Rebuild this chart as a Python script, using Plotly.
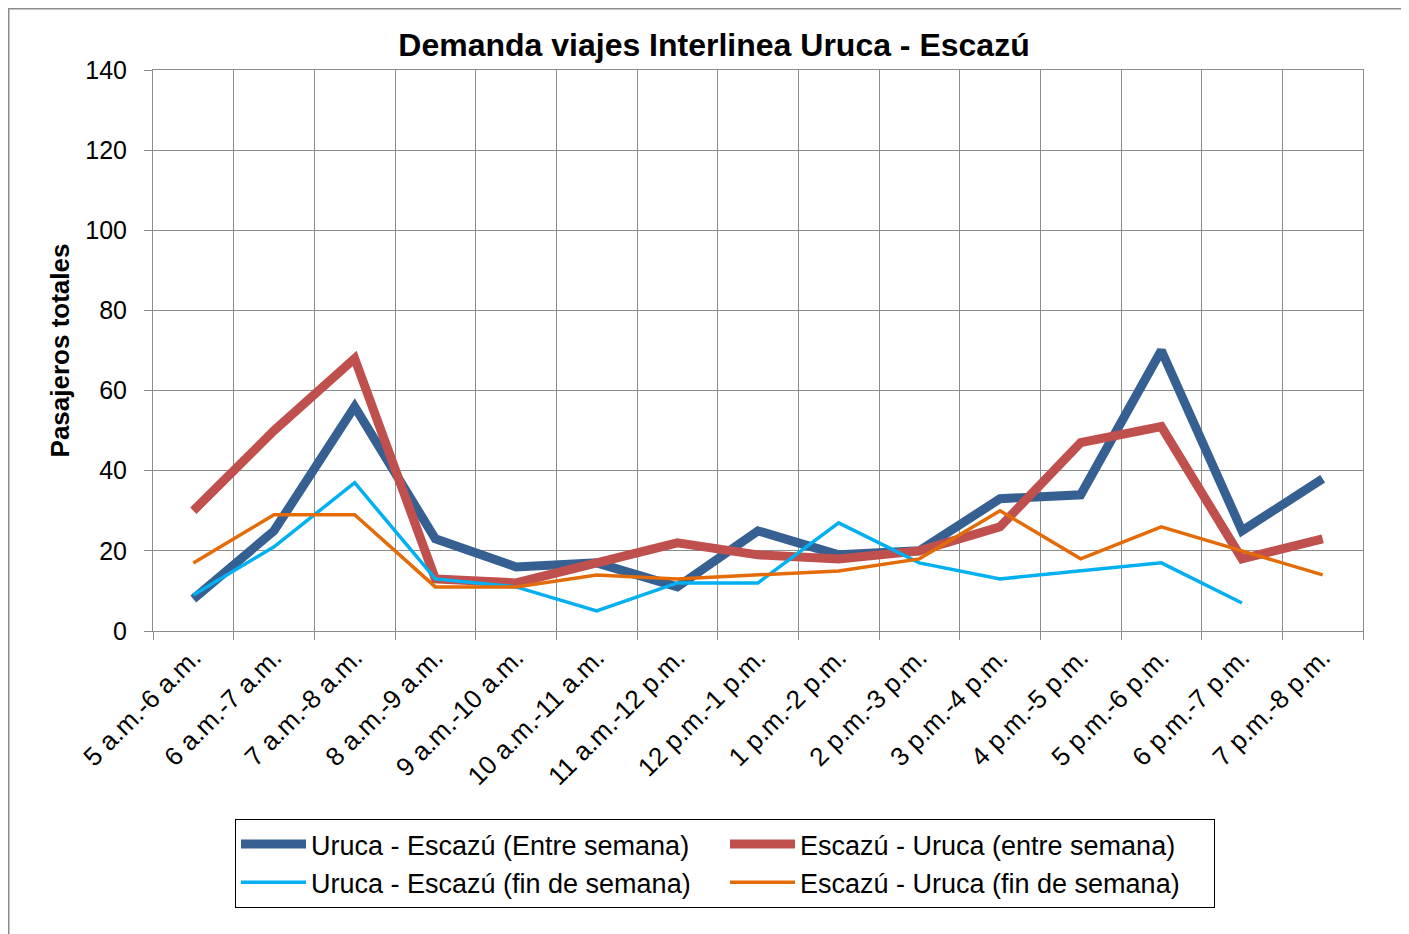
import plotly.graph_objects as go

categories = ["5 a.m.-6 a.m.", "6 a.m.-7 a.m.", "7 a.m.-8 a.m.", "8 a.m.-9 a.m.", "9 a.m.-10 a.m.",
              "10 a.m.-11 a.m.", "11 a.m.-12 p.m.", "12 p.m.-1 p.m.", "1 p.m.-2 p.m.", "2 p.m.-3 p.m.",
              "3 p.m.-4 p.m.", "4 p.m.-5 p.m.", "5 p.m.-6 p.m.", "6 p.m.-7 p.m.", "7 p.m.-8 p.m."]

uruca_escazu_entre = [8, 25, 56, 23, 16, 17, 11, 25, 19, 20, 33, 34, 70, 25, 38]
escazu_uruca_entre = [30, 50, 68, 13, 12, 17, 22, 19, 18, 20, 26, 47, 51, 18, 23]
uruca_escazu_fin = [9, 21, 37, 13, 11, 5, 12, 12, 27, 17, 13, 15, 17, 7, None]
escazu_uruca_fin = [17, 29, 29, 11, 11, 14, 13, 14, 15, 18, 30, 18, 26, 20, 14]

series = [
    ("Uruca - Escazú (Entre semana)", uruca_escazu_entre, "#376092", 9),
    ("Escazú - Uruca (entre semana)", escazu_uruca_entre, "#C0504D", 9),
    ("Uruca - Escazú (fin de semana)", uruca_escazu_fin, "#00B0F0", 3.5),
    ("Escazú - Uruca (fin de semana)", escazu_uruca_fin, "#E36C09", 3.5),
]

FONT = "Liberation Sans, Arial, sans-serif"

fig = go.Figure()
for name, vals, color, w in series:
    fig.add_trace(go.Scatter(x=categories, y=vals, name=name, mode="lines",
                             line=dict(color=color, width=w), connectgaps=False))

# page has an 8px body margin; figure is placed at (8, 8)
W, H = 1401, 926
L, R, T, B = 145, 46, 62, 303
pw, ph = W - L - R, H - T - B
bottom_px = T + ph  # figure y of the x axis

fig.update_layout(
    width=W, height=H,
    margin=dict(l=L, r=R, t=T, b=B),
    paper_bgcolor="white", plot_bgcolor="white",
    font=dict(family=FONT, color="black"),
    title=dict(text="<b>Demanda viajes Interlinea Uruca - Escazú</b>",
               x=706 / W, xanchor="center", y=1 - 37 / H, yanchor="middle",
               font=dict(size=32, family=FONT, color="black")),
    showlegend=True,
    legend=dict(orientation="h", x=(227 - L) / pw, xanchor="left",
                y=(bottom_px - 811) / ph, yanchor="top",
                bordercolor="black", borderwidth=1, bgcolor="white",
                font=dict(size=27, family=FONT), entrywidth=409, entrywidthmode="pixels",
                itemwidth=65, traceorder="normal"),
)

fig.update_xaxes(type="category", tickson="boundaries", showgrid=True, gridcolor="#8C8C8C",
                 gridwidth=1, ticks="outside", ticklen=8, tickcolor="#8C8C8C",
                 showline=True, linecolor="#8C8C8C", linewidth=1,
                 tickangle=-45, tickfont=dict(size=26, family=FONT, color="black"),
                 range=[-0.5, len(categories) - 0.5], mirror=True)
fig.update_yaxes(range=[0, 140], dtick=20, showgrid=True, gridcolor="#8C8C8C", gridwidth=1,
                 ticks="outside", ticklen=8, tickcolor="#8C8C8C", ticklabelstandoff=12,
                 showline=True, linecolor="#8C8C8C", linewidth=1, mirror=True,
                 tickfont=dict(size=25, family=FONT, color="black"), zeroline=False,
                 title=dict(text="<b>Pasajeros totales</b>", font=dict(size=26, family=FONT),
                            standoff=8))

# outer chart border
fig.add_shape(type="rect", xref="paper", yref="paper",
              x0=(0.5 - L) / pw, x1=(1397 - L) / pw,
              y0=(bottom_px - 960) / ph, y1=(bottom_px - 0.5) / ph,
              line=dict(color="#8C8C8C", width=2), fillcolor="rgba(0,0,0,0)", layer="below")

fig.write_html("out.html")
